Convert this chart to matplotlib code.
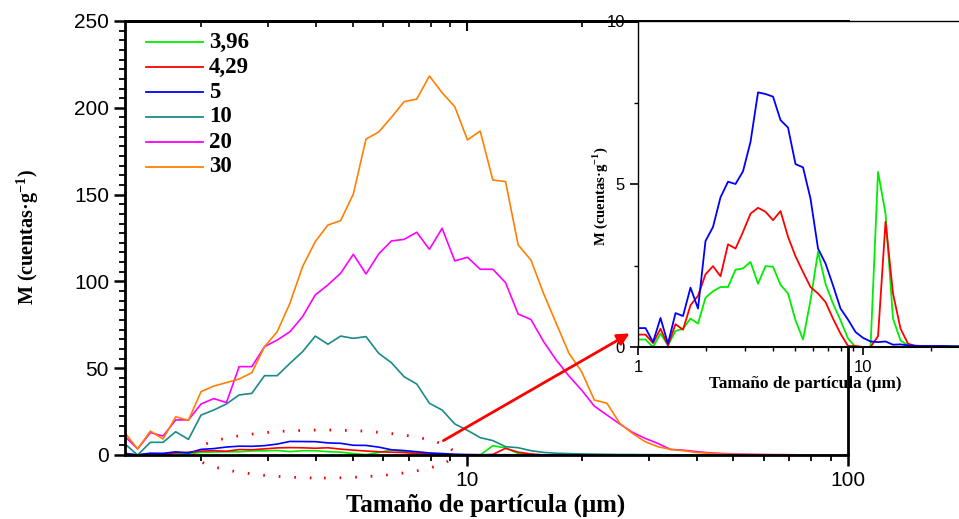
import matplotlib
matplotlib.use("Agg")
import matplotlib.pyplot as plt
from matplotlib.ticker import LogLocator, NullFormatter, AutoMinorLocator, FixedLocator
from matplotlib.patches import Ellipse, FancyArrowPatch
from matplotlib.lines import Line2D

plt.rcParams["font.family"] = "Liberation Sans"
plt.rcParams["mathtext.fontset"] = "custom"
plt.rcParams["mathtext.rm"] = "Liberation Serif:bold"
plt.rcParams["mathtext.bf"] = "Liberation Serif:bold"

# particle size bins (um)
size_um = [
    1.000, 1.080, 1.166, 1.259, 1.359, 1.468, 1.585, 1.711, 1.848, 1.995,
    2.154, 2.326, 2.512, 2.712, 2.929, 3.162, 3.415, 3.687, 3.981, 4.299,
    4.642, 5.012, 5.412, 5.843, 6.310, 6.813, 7.356, 7.943, 8.577, 9.261,
    10.00, 10.80, 11.66, 12.59, 13.59, 14.68, 15.85, 17.11, 18.48, 19.95,
    21.54, 23.26, 25.12, 27.12, 29.29, 31.62, 34.15, 36.87, 39.81, 42.99,
    46.42, 50.12, 54.12, 58.43, 63.10, 68.13, 73.56, 79.43, 85.77, 92.61,
    100.0,
]

m_396 = [
    0.23, 0.23, 0.0, 0.41, 0.05, 0.49, 0.56, 0.87, 0.72, 1.51,
    1.71, 1.84, 1.84, 2.37, 2.41, 2.61, 1.94, 2.48, 2.46, 1.91,
    1.64, 0.82, 0.23, 1.43, 2.92, 1.94, 1.33, 0.82, 0.26, 0.0,
    0.0, 0.0, 5.37, 4.09, 0.87, 0.20, 0.05, 0.03, 0.02, 0.02,
    0.02, 0.03, 0.03, 0.02, 0.01, 0.01, 0.01, 0.0, 0.0, 0.0,
    0.0, 0.0, 0.0, 0.0, 0.0, 0.0, 0.0, 0.0, 0.0, 0.0, 0.0,
]
m_429 = [
    0.38, 0.38, 0.12, 0.56, 0.05, 0.70, 0.53, 1.28, 1.57, 2.23,
    2.48, 2.17, 3.15, 3.02, 3.53, 4.09, 4.27, 4.15, 3.89, 4.17,
    3.38, 2.78, 2.30, 1.84, 1.64, 1.38, 0.87, 0.41, 0.03, 0.03,
    0.0, 0.0, 0.33, 3.84, 1.64, 0.56, 0.10, 0.03, 0.02, 0.02,
    0.02, 0.01, 0.01, 0.01, 0.0, 0.0, 0.0, 0.0, 0.0, 0.0,
    0.0, 0.0, 0.0, 0.0, 0.0, 0.0, 0.0, 0.0, 0.0, 0.0, 0.0,
]
m_5 = [
    0.58, 0.58, 0.15, 0.89, 0.10, 1.04, 0.95, 1.82, 1.18, 3.25,
    3.68, 4.59, 5.07, 5.00, 5.39, 6.29, 7.81, 7.76, 7.68, 6.96,
    6.73, 5.61, 5.51, 4.55, 3.02, 2.56, 1.89, 1.18, 0.84, 0.46,
    0.28, 0.17, 0.15, 0.17, 0.07, 0.08, 0.05, 0.04, 0.03, 0.03,
    0.03, 0.03, 0.02, 0.02, 0.02, 0.01, 0.01, 0.01, 0.0, 0.0,
    0.0, 0.0, 0.0, 0.0, 0.0, 0.0, 0.0, 0.0, 0.0, 0.0, 0.0,
]
# the larger series start at the 4th bin (1.26 um)
m_10 = [
    6.3, 0.0, 7.3, 7.3, 13.4, 9.0, 23.0,
    25.9, 29.4, 34.6, 35.5, 45.7, 45.7, 52.8, 59.5, 68.5, 63.8,
    68.5, 67.2, 68.2, 58.6, 53.2, 45.1, 40.9, 29.8, 25.9, 17.9,
    14.2, 10.0, 8.3, 4.8, 4.2, 2.5, 1.5, 1.0, 0.8, 0.6,
    0.5, 0.4, 0.3, 0.3, 0.2, 0.2, 0.1, 0.1, 0.1, 0.1,
    0.1, 0.0, 0.0, 0.0, 0.0, 0.0, 0.0, 0.0, 0.0, 0.0, 0.0,
]
m_20 = [
    10.6, 3.5, 12.9, 10.9, 20.2, 20.2, 29.4,
    32.5, 30.2, 50.9, 50.9, 62.4, 66.2, 71.0, 79.7, 92.2, 98.0,
    104.7, 115.6, 104.3, 115.8, 123.3, 124.2, 128.3, 118.5, 130.6, 111.8,
    113.9, 107.0, 107.0, 99.3, 81.2, 78.1, 65.3, 54.7, 45.5, 37.4,
    28.2, 23.0, 17.9, 13.1, 9.6, 6.7, 3.2, 2.8, 2.0, 1.3,
    0.9, 0.6, 0.4, 0.3, 0.2, 0.2, 0.1, 0.1, 0.1, 0.0, 0.0,
]
m_30 = [
    12.7, 3.5, 13.8, 9.2, 22.0, 20.0, 36.5,
    39.7, 41.7, 43.8, 47.4, 62.4, 71.0, 87.4, 108.5, 122.9, 132.5,
    135.0, 150.3, 182.0, 186.0, 194.5, 203.5, 205.0, 218.3, 208.7, 200.6,
    181.5, 186.6, 158.4, 157.5, 121.0, 112.3, 93.0, 75.8, 58.6, 48.0,
    31.7, 29.8, 18.3, 12.5, 7.7, 4.8, 3.2, 2.5, 1.5, 1.0,
    0.6, 0.4, 0.3, 0.2, 0.2, 0.1, 0.1, 0.1, 0.0, 0.0, 0.0,
]

labels = ["3,96", "4,29", "5", "10", "20", "30"]
colors = ["#00ee00", "#ff0000", "#0000ff", "#1a8a8a", "#ff00ff", "#ff8000"]

W, H = 959, 519
fig = plt.figure(figsize=(W / 100, H / 100), dpi=100)


def fx(px):
    return px / W


def fy(py):
    return 1 - py / H


serif_bold = {"family": "Liberation Serif", "weight": "bold"}

# main axes
ax = fig.add_axes([fx(125), fy(455), fx(848) - fx(125), fy(21) - fy(455)])
small = [m_396, m_429, m_5]
big = [m_10, m_20, m_30]
for vals, c in zip(small, colors[:3]):
    ax.plot(size_um, vals, color=c, lw=1.2)
for vals, c in zip(big, colors[3:]):
    ax.plot(size_um[3:], vals, color=c, lw=1.2)

ax.set_xscale("log")
ax.set_xlim(1.259, 100)
ax.set_ylim(0, 250)
ax.set_yticks([0, 50, 100, 150, 200, 250])
ax.yaxis.set_minor_locator(AutoMinorLocator(9))
ax.xaxis.set_major_locator(FixedLocator([10, 100]))
ax.xaxis.set_minor_locator(LogLocator(base=10, subs=range(2, 10)))
ax.xaxis.set_minor_formatter(NullFormatter())
ax.set_xticklabels(["10", "100"])
ax.tick_params(axis="both", which="major", labelsize=15, width=1.8, length=8, direction="out")
ax.tick_params(axis="both", which="minor", width=1.3, length=4, direction="out")
for s in ax.spines.values():
    s.set_linewidth(2)

# ticks on top pointing inwards
top = ax.secondary_xaxis("top")
top.xaxis.set_major_locator(FixedLocator([10, 100]))
top.xaxis.set_minor_locator(LogLocator(base=10, subs=range(2, 10)))
top.xaxis.set_minor_formatter(NullFormatter())
top.tick_params(which="both", direction="in", labeltop=False)
top.tick_params(which="major", width=1.5, length=7)
top.tick_params(which="minor", width=1.2, length=4)
top.spines["top"].set_linewidth(2)

# legend drawn by hand
for i, (lab, c) in enumerate(zip(labels, colors)):
    yy = fy(42 + 25 * i)
    fig.add_artist(Line2D([fx(146), fx(203)], [yy, yy], color=c, lw=1.3))
    fig.text(fx(209), yy, lab, ha="left", va="center", fontsize=16.5, **serif_bold)

fig.text(fx(28), fy(237), r"M (cuentas·g$^{\mathbf{-1}}$)", rotation=90,
         ha="center", va="center", fontsize=14.5, **serif_bold)
fig.text(fx(486), fy(505), "Tamaño de partícula (μm)", ha="center", va="center",
         fontsize=18, **serif_bold)

# dotted ellipse around low curves
ell = Ellipse((fx(324), fy(454)), fx(260), 48 / H, transform=fig.transFigure,
              fill=False, edgecolor="red", lw=2, linestyle=(0, (0.6, 5)), zorder=5)
fig.add_artist(ell)

# inset
ins = fig.add_axes([fx(638), fy(347), 1 - fx(638), fy(21) - fy(347)])
ins.set_facecolor("white")
for vals, c in zip(small, colors[:3]):
    ins.plot(size_um, vals, color=c, lw=1.3)
ins.set_xscale("log")
ins.set_xlim(1, 26.7)
ins.set_ylim(0, 10)
ins.set_yticks([0, 5, 10])
ins.yaxis.set_minor_locator(AutoMinorLocator(2))
ins.xaxis.set_major_locator(FixedLocator([1, 10]))
ins.xaxis.set_minor_locator(LogLocator(base=10, subs=range(2, 10)))
ins.xaxis.set_minor_formatter(NullFormatter())
ins.set_xticklabels(["1", "10"])
ins.tick_params(axis="both", which="major", labelsize=12, width=1.2, length=6)
ins.tick_params(axis="both", which="minor", width=1, length=3)
ins.spines["right"].set_visible(False)
ins.spines["left"].set_linewidth(1)
ins.spines["bottom"].set_linewidth(1.5)
ins.spines["top"].set_linewidth(1)
fig.text(fx(600), fy(196), r"M (cuentas·g$^{\mathbf{-1}}$)", rotation=90,
         ha="center", va="center", fontsize=10.5, **serif_bold)
fig.text(fx(805), fy(384), "Tamaño de partícula (μm)", ha="center", va="center",
         fontsize=12.4, **serif_bold)

# arrow pointing to inset
fig.add_artist(FancyArrowPatch(
    (fx(441), fy(442)), (fx(632), fy(332)), transform=fig.transFigure,
    arrowstyle="-|>", mutation_scale=18, color="red", lw=2, zorder=6))

plt.savefig("out.png", dpi=100)
